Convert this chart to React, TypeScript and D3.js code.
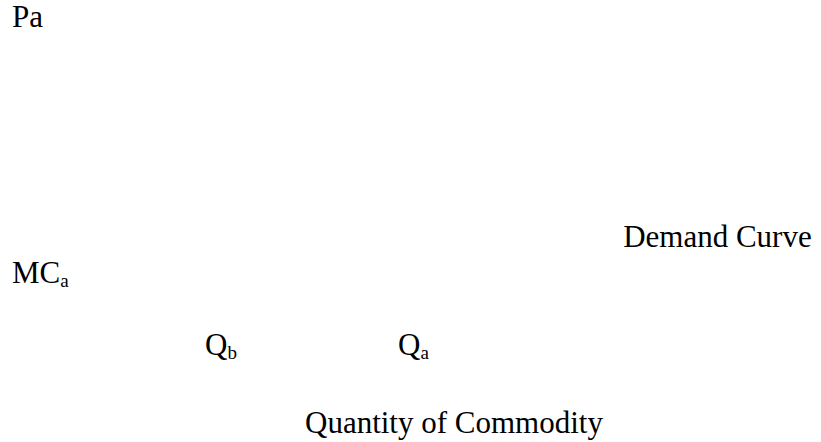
import React from 'react';
import * as d3 from 'd3';

// Axis labels of the price/quantity diagram (the curves themselves are not drawn in the reference)
const priceLabels = [
  { main: 'Pa', sub: '', price: 100 },
  { main: 'MC', sub: 'a', price: 22 },
];
const quantityLabels = [
  { main: 'Q', sub: 'b', qty: 20 },
  { main: 'Q', sub: 'a', qty: 50 },
];
const curveLabel = { text: 'Demand Curve', qty: 85, price: 33 };
const xTitle = 'Quantity of Commodity';

const width = 821;
const height = 442;
const font = "'Liberation Serif', 'Times New Roman', Times, serif";

export default function App() {
  const x = d3.scaleLinear().domain([20, 50]).range([205, 398]);
  const y = d3.scaleLinear().domain([0, 100]).range([355, 27]);

  return (
    <svg
      width={width}
      height={height}
      style={{ position: 'fixed', left: 0, top: 0, background: '#fff', fontFamily: font }}
    >
      {priceLabels.map(d => (
        <text key={d.main + d.sub} x={12} y={y(d.price)} fontSize={31} fill="#000">
          {d.main}
          {d.sub && <tspan fontSize={19} dy={4}>{d.sub}</tspan>}
        </text>
      ))}
      {quantityLabels.map(d => (
        <text key={d.main + d.sub} x={x(d.qty)} y={y(0)} fontSize={31} fill="#000">
          {d.main}
          <tspan fontSize={19} dy={4}>{d.sub}</tspan>
        </text>
      ))}
      <text x={x(curveLabel.qty)} y={y(curveLabel.price)} fontSize={31} fill="#000">
        {curveLabel.text}
      </text>
      <text x={305} y={433} fontSize={31} fill="#000">
        {xTitle}
      </text>
    </svg>
  );
}
